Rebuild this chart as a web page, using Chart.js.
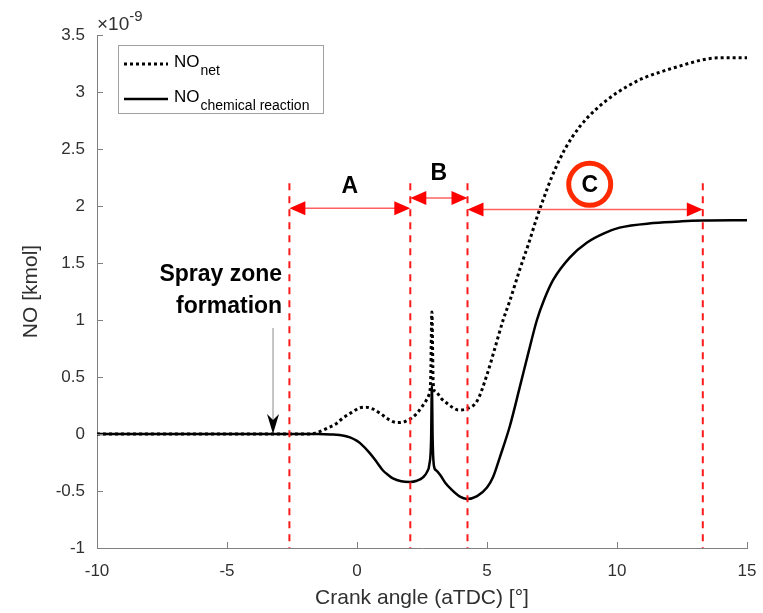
<!DOCTYPE html>
<html>
<head>
<meta charset="utf-8">
<script src="https://cdn.jsdelivr.net/npm/chart.js@4/dist/chart.umd.min.js"></script>
<style>
  html, body { margin: 0; padding: 0; background: #ffffff; }
  #wrap { width: 763px; height: 613px; }
</style>
</head>
<body>
<div id="wrap"><canvas id="c" width="763" height="613"></canvas></div>
<script>
// Crank angle (deg aTDC) and NO amount (x1e-9 kmol)
const xNet = [-10, -2, -1.8, -1.5, -1.15, -0.8, -0.54, -0.2, 0.12, 0.35,
  0.6, 0.9, 1.2, 1.54, 1.85, 2.1, 2.3, 2.5, 2.65, 2.76,
  2.83, 2.88, 2.93, 3.0, 3.08, 3.25, 3.46, 3.7, 3.9, 4.2,
  4.62, 5.0, 5.3, 5.62, 5.88, 6.27, 6.6, 6.92, 7.2, 7.5,
  8.0, 8.58, 9.2, 9.73, 10.4, 11.0, 11.6, 12.3, 12.9, 13.46,
  14.0, 15];
const yNet = [0, 0, 0, 0.015, 0.05, 0.09, 0.14, 0.19, 0.23, 0.235,
  0.22, 0.18, 0.13, 0.10, 0.11, 0.14, 0.18, 0.24, 0.29, 0.34,
  0.45, 1.07, 0.45, 0.37, 0.36, 0.31, 0.27, 0.23, 0.21, 0.22,
  0.29, 0.52, 0.75, 1.0, 1.17, 1.45, 1.67, 1.9, 2.08, 2.26,
  2.5, 2.7, 2.85, 2.95, 3.05, 3.12, 3.17, 3.22, 3.26, 3.29,
  3.30, 3.30];

const xChem = [-10, -3, -1.5, -1, -0.5, -0.27, 0, 0.12, 0.5, 0.77,
  1.0, 1.2, 1.38, 1.7, 2.04, 2.3, 2.54, 2.7, 2.78, 2.85,
  2.88, 2.91, 2.96, 3.05, 3.2, 3.4, 3.6, 3.96, 4.23, 4.62,
  5.0, 5.23, 5.5, 5.88, 6.27, 6.6, 6.92, 7.2, 7.54, 8.19,
  8.85, 9.5, 10.1, 11.4, 12.5, 13.3, 15];
const yChem = [0, 0, 0, -0.004, -0.015, -0.03, -0.06, -0.08, -0.17, -0.25,
  -0.32, -0.36, -0.39, -0.415, -0.42, -0.41, -0.38, -0.33, -0.27, -0.05,
  0.42, -0.05, -0.28, -0.32, -0.36, -0.43, -0.48, -0.55, -0.57, -0.545,
  -0.47, -0.38, -0.2, 0.07, 0.42, 0.72, 1.0, 1.18, 1.35, 1.55,
  1.68, 1.76, 1.81, 1.85, 1.866, 1.872, 1.875];

// Phase boundaries (crank angle) and their labels
const phaseBounds = [-2.6, 2.05, 4.25, 13.3];
const phaseLabels = ['A', 'B', 'C'];
const sprayAngle = -3.23;
const sprayText = ['Spray zone', 'formation'];

const xTicks = [-10, -5, 0, 5, 10, 15];
const yTicks = [-1, -0.5, 0, 0.5, 1, 1.5, 2, 2.5, 3, 3.5];

const FONT = '"Liberation Sans", Arial, Helvetica, sans-serif';
const TXT = '#303030';
const AXIS = '#808080';

const toPts = (xs, ys) => xs.map((x, i) => ({ x: x, y: ys[i] }));

function arrowHead(ctx, x, y, dir) {
  // dir = -1 points left, +1 points right
  const len = 16, hw = 7;
  ctx.beginPath();
  ctx.moveTo(x, y);
  ctx.lineTo(x - dir * len, y - hw);
  ctx.lineTo(x - dir * len, y + hw);
  ctx.closePath();
  ctx.fill();
}

function doubleArrow(ctx, x1, x2, y) {
  ctx.save();
  ctx.strokeStyle = '#ff6060';
  ctx.lineWidth = 1.5;
  ctx.beginPath();
  ctx.moveTo(x1 + 10, y);
  ctx.lineTo(x2 - 10, y);
  ctx.stroke();
  ctx.fillStyle = '#ff0000';
  arrowHead(ctx, x1, y, -1);
  arrowHead(ctx, x2, y, 1);
  ctx.restore();
}

const decorations = {
  id: 'decorations',
  afterDraw(chart) {
    const ctx = chart.ctx;
    const xs = chart.scales.x, ys = chart.scales.y;
    const area = chart.chartArea;
    const px = v => xs.getPixelForValue(v);
    const py = v => ys.getPixelForValue(v);

    // inward tick marks
    ctx.save();
    ctx.strokeStyle = AXIS;
    ctx.lineWidth = 1;
    ctx.beginPath();
    yTicks.forEach(t => {
      const y = Math.round(py(t)) + 0.5;
      ctx.moveTo(area.left, y);
      ctx.lineTo(area.left + 6, y);
    });
    xTicks.forEach(t => {
      const x = Math.round(px(t)) + 0.5;
      ctx.moveTo(x, area.bottom);
      ctx.lineTo(x, area.bottom - 6);
    });
    ctx.stroke();
    ctx.restore();

    // phase boundaries
    ctx.save();
    ctx.strokeStyle = '#ff1a1a';
    ctx.lineWidth = 2;
    ctx.setLineDash([7, 6]);
    phaseBounds.forEach(b => {
      const x = px(b);
      ctx.beginPath();
      ctx.moveTo(x, py(2.2));
      ctx.lineTo(x, area.bottom);
      ctx.stroke();
    });
    ctx.restore();

    // phase arrows
    doubleArrow(ctx, px(phaseBounds[0]), px(phaseBounds[1]), py(1.98));
    doubleArrow(ctx, px(phaseBounds[1]), px(phaseBounds[2]), py(2.07));
    doubleArrow(ctx, px(phaseBounds[2]), px(phaseBounds[3]), py(1.97));

    // phase labels
    ctx.save();
    ctx.fillStyle = '#000';
    ctx.font = 'bold 23px ' + FONT;
    ctx.textAlign = 'center';
    ctx.textBaseline = 'middle';
    ctx.fillText(phaseLabels[0], px((phaseBounds[0] + phaseBounds[1]) / 2), py(2.17));
    ctx.fillText(phaseLabels[1], px((phaseBounds[1] + phaseBounds[2]) / 2), py(2.28));
    const cx = px(8.95), cy = py(2.19);
    ctx.fillText(phaseLabels[2], cx, cy + 1);
    ctx.strokeStyle = '#ff2a00';
    ctx.lineWidth = 5;
    ctx.beginPath();
    ctx.arc(cx, cy, 21, 0, Math.PI * 2);
    ctx.stroke();
    ctx.restore();

    // spray zone note
    ctx.save();
    ctx.fillStyle = '#000';
    ctx.font = 'bold 23px ' + FONT;
    ctx.textAlign = 'right';
    ctx.textBaseline = 'middle';
    ctx.fillText(sprayText[0], px(-2.88), py(1.40));
    ctx.fillText(sprayText[1], px(-2.88), py(1.12));
    const ax = px(sprayAngle);
    ctx.strokeStyle = '#8c8c8c';
    ctx.lineWidth = 1;
    ctx.beginPath();
    ctx.moveTo(ax, py(0.93));
    ctx.lineTo(ax, py(0.1));
    ctx.stroke();
    ctx.fillStyle = '#000';
    const tip = py(0);
    ctx.beginPath();
    ctx.moveTo(ax, tip);
    ctx.lineTo(ax - 6, tip - 20);
    ctx.lineTo(ax, tip - 14);
    ctx.lineTo(ax + 6, tip - 20);
    ctx.closePath();
    ctx.fill();
    ctx.restore();

    // legend
    ctx.save();
    ctx.fillStyle = '#ffffff';
    ctx.fillRect(118.5, 45.5, 205, 68);
    ctx.strokeStyle = '#a0a0a0';
    ctx.lineWidth = 1;
    ctx.strokeRect(118.5, 45.5, 205, 68);
    ctx.strokeStyle = '#000';
    ctx.lineWidth = 3;
    ctx.setLineDash([3, 3]);
    ctx.beginPath();
    ctx.moveTo(124, 64); ctx.lineTo(168, 64);
    ctx.stroke();
    ctx.setLineDash([]);
    ctx.lineWidth = 2.5;
    ctx.beginPath();
    ctx.moveTo(124, 99); ctx.lineTo(168, 99);
    ctx.stroke();
    ctx.fillStyle = '#000';
    ctx.textAlign = 'left';
    ctx.textBaseline = 'alphabetic';
    ctx.font = '17px ' + FONT;
    ctx.fillText('NO', 174, 67);
    const w = ctx.measureText('NO').width;
    ctx.fillText('NO', 174, 102);
    ctx.font = '14px ' + FONT;
    ctx.fillText('net', 175 + w, 75);
    ctx.fillText('chemical reaction', 175 + w, 110);
    ctx.restore();

    // axis exponent
    ctx.save();
    ctx.fillStyle = TXT;
    ctx.textAlign = 'left';
    ctx.textBaseline = 'alphabetic';
    ctx.font = '19px ' + FONT;
    ctx.fillText('\u00d710', 97, 30);
    const ew = ctx.measureText('\u00d710').width;
    ctx.font = '15px ' + FONT;
    ctx.fillText('-9', 97 + ew, 21);
    ctx.restore();
  }
};

new Chart(document.getElementById('c'), {
  type: 'line',
  data: {
    datasets: [
      {
        label: 'NO net',
        data: toPts(xNet, yNet),
        borderColor: '#000',
        borderWidth: 3,
        borderDash: [3, 3],
        borderCapStyle: 'butt',
        pointRadius: 0,
        cubicInterpolationMode: 'monotone',
        fill: false
      },
      {
        label: 'NO chemical reaction',
        data: toPts(xChem, yChem),
        borderColor: '#000',
        borderWidth: 2.5,
        pointRadius: 0,
        cubicInterpolationMode: 'monotone',
        fill: false
      }
    ]
  },
  options: {
    responsive: false,
    animation: false,
    layout: { padding: { left: 0, right: 16, top: 35, bottom: 0 } },
    plugins: { legend: { display: false }, tooltip: { enabled: false } },
    scales: {
      x: {
        type: 'linear',
        min: -10, max: 15,
        afterBuildTicks: s => { s.ticks = xTicks.map(v => ({ value: v })); },
        afterFit: s => { s.height = 65; s.paddingLeft = 0; s.paddingRight = 0; },
        grid: { display: false, drawTicks: false },
        border: { display: true, color: AXIS, width: 1 },
        ticks: { font: { family: FONT, size: 17 }, color: TXT, padding: 13, maxRotation: 0, callback: v => String(v) },
        title: { display: true, text: 'Crank angle (aTDC) [\u00b0]', font: { family: FONT, size: 21 }, color: TXT, padding: { top: 0, bottom: 2 } }
      },
      y: {
        type: 'linear',
        min: -1, max: 3.5,
        afterBuildTicks: s => { s.ticks = yTicks.map(v => ({ value: v })); },
        afterFit: s => { s.width = 97; s.paddingTop = 0; s.paddingBottom = 0; },
        grid: { display: false, drawTicks: false },
        border: { display: true, color: AXIS, width: 1 },
        ticks: { font: { family: FONT, size: 17 }, color: TXT, padding: 12, callback: v => String(v) },
        title: { display: true, text: 'NO [kmol]', font: { family: FONT, size: 21 }, color: TXT, padding: { top: 19, bottom: 0 } }
      }
    }
  },
  plugins: [decorations]
});
</script>
</body>
</html>
